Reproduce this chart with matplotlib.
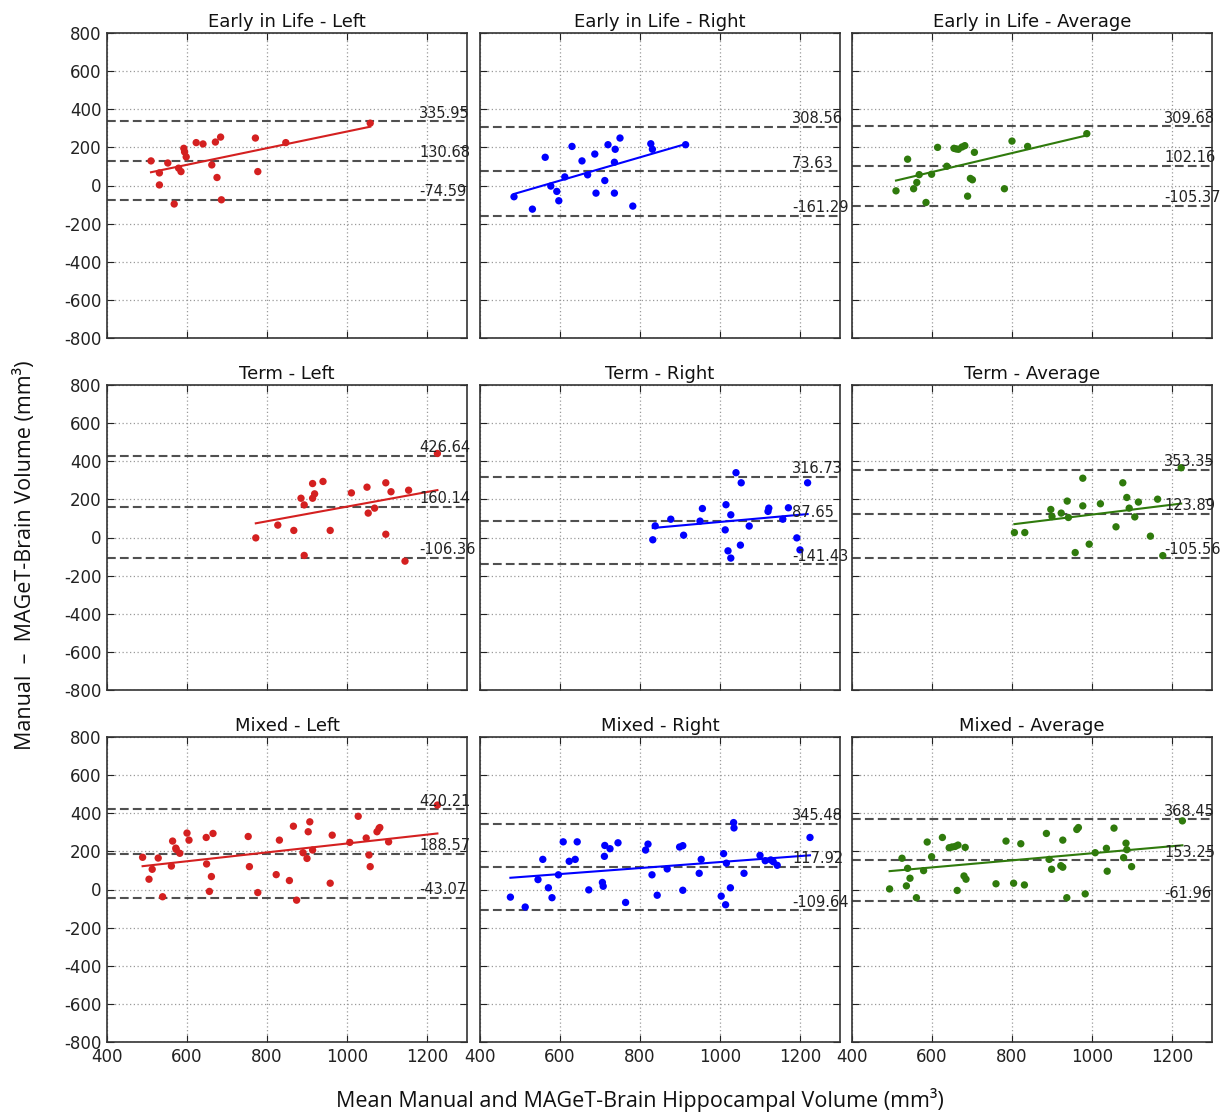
import numpy as np
import matplotlib
matplotlib.use("Agg")
import matplotlib.pyplot as plt

plt.rcParams["axes.unicode_minus"] = False

# ---------------- data ----------------
titles = ["Early in Life - Left", "Early in Life - Right", "Early in Life - Average",
          "Term - Left", "Term - Right", "Term - Average",
          "Mixed - Left", "Mixed - Right", "Mixed - Average"]

eil_left_x = [510, 531, 531, 552, 568, 579, 585, 592, 594, 598, 623, 640, 662, 671, 675, 684, 686, 771, 777, 847, 1058]
eil_left_y = [129, 66, 3, 118, -97, 91, 73, 195, 176, 150, 225, 218, 108, 228, 42, 254, -75, 249, 73, 225, 327]

eil_right_x = [485, 531, 563, 577, 592, 597, 612, 630, 655, 669, 687, 690, 712, 720, 736, 736, 738, 750, 782, 827, 831, 914]
eil_right_y = [-59, -124, 148, -3, -31, -80, 45, 205, 129, 56, 165, -40, 26, 214, 122, -40, 190, 249, -108, 219, 190, 214]

eil_avg_x = [510, 539, 554, 562, 568, 585, 599, 614, 637, 655, 660, 666, 675, 682, 689, 696, 701, 706, 781, 800, 839, 987]
eil_avg_y = [-28, 138, -17, 16, 57, -89, 59, 200, 101, 195, 192, 190, 202, 209, -56, 37, 30, 174, -17, 233, 205, 272]

term_left_x = [772, 827, 867, 885, 893, 893, 914, 914, 919, 940, 958, 1011, 1050, 1053, 1069, 1097, 1097, 1110, 1145, 1154, 1226]
term_left_y = [-2, 65, 37, 206, 171, -94, 283, 206, 229, 294, 37, 234, 264, 128, 154, 287, 17, 240, -124, 248, 441]

term_right_x = [832, 838, 877, 909, 950, 956, 1013, 1015, 1020, 1027, 1027, 1040, 1051, 1053, 1073, 1120, 1122, 1157, 1171, 1192, 1200, 1219]
term_right_y = [-12, 61, 96, 12, 86, 152, 40, 172, -70, -108, 119, 340, -40, 287, 60, 137, 154, 96, 156, -2, -65, 287]

term_avg_x = [806, 832, 897, 900, 923, 938, 941, 958, 977, 977, 993, 1021, 1060, 1077, 1087, 1093, 1107, 1116, 1146, 1164, 1177, 1223]
term_avg_y = [26, 26, 147, 110, 128, 191, 105, -79, 311, 166, -35, 177, 56, 287, 210, 154, 108, 186, 7, 201, -95, 366]

mixed_left_x = [489, 505, 513, 528, 539, 561, 564, 572, 573, 582, 600, 605, 648, 649, 656, 661, 665, 753, 756, 777,
                823, 831, 856, 866, 874, 890, 900, 903, 907, 914, 958, 963, 1007, 1028, 1048, 1055, 1058, 1075, 1080, 1082, 1104, 1226]
mixed_left_y = [169, 54, 106, 165, -38, 123, 254, 217, 210, 190, 296, 259, 273, 134, -10, 68, 294, 278, 120, -16,
                78, 259, 47, 332, -56, 193, 163, 303, 355, 207, 33, 285, 247, 384, 270, 181, 120, 303, 320, 325, 250, 443]

mixed_right_x = [476, 513, 545, 557, 571, 580, 596, 608, 623, 638, 643, 672, 706, 708, 711, 712, 725, 745, 764, 814, 820, 830,
                 843, 868, 899, 907, 907, 948, 953, 1003, 1009, 1014, 1016, 1026, 1034, 1035, 1060, 1100, 1113, 1127, 1133, 1143, 1225]
mixed_right_y = [-40, -92, 52, 158, 9, -43, 77, 250, 148, 158, 250, -2, 37, 17, 174, 231, 214, 245, -68, 207, 238, 77,
                 -30, 108, 223, 230, -4, 85, 158, -35, 188, -80, 138, 9, 351, 323, 85, 179, 151, 155, 146, 127, 273]

mixed_avg_x = [494, 525, 536, 539, 545, 561, 579, 588, 599, 626, 643, 650, 658, 665, 683, 663, 680, 685, 760, 785, 804,
               822, 831, 886, 893, 899, 922, 927, 927, 937, 962, 966, 983, 1008, 1036, 1038, 1055, 1079, 1085, 1087, 1099, 1226]
mixed_avg_y = [3, 164, 19, 111, 59, -43, 99, 249, 172, 273, 219, 223, 226, 233, 221, -5, 71, 54, 30, 254, 33,
               240, 24, 294, 158, 106, 125, 117, 259, -43, 315, 325, -23, 193, 216, 96, 322, 167, 243, 209, 120, 360]

xs = [eil_left_x, eil_right_x, eil_avg_x, term_left_x, term_right_x, term_avg_x, mixed_left_x, mixed_right_x, mixed_avg_x]
ys = [eil_left_y, eil_right_y, eil_avg_y, term_left_y, term_right_y, term_avg_y, mixed_left_y, mixed_right_y, mixed_avg_y]

upper_loa = [335.95, 308.56, 309.68, 426.64, 316.73, 353.35, 420.21, 345.48, 368.45]
mean_diff = [130.68, 73.63, 102.16, 160.14, 87.65, 123.89, 188.57, 117.92, 153.25]
lower_loa = [-74.59, -161.29, -105.37, -106.36, -141.43, -105.56, -43.07, -109.64, -61.96]

colors = ["#d42020", "#0000ff", "#2f7a0c"]

x_ticks = [400, 600, 800, 1000, 1200]
y_ticks = [800, 600, 400, 200, 0, -200, -400, -600, -800]

# ---------------- figure ----------------
W, H = 1227, 1116
fig = plt.figure(figsize=(W / 100, H / 100), dpi=100)

lefts = [107, 480, 852]
tops = [33, 385, 737]
aw, ah = 360, 305

for i in range(9):
    r, c = divmod(i, 3)
    ax = fig.add_axes([lefts[c] / W, 1 - (tops[r] + ah) / H, aw / W, ah / H])
    col = colors[c]
    x = np.array(xs[i], dtype=float)
    y = np.array(ys[i], dtype=float)

    ax.grid(True, color="#9a9a9a", linestyle=(0, (1, 2)), linewidth=0.9)
    ax.set_axisbelow(True)

    for v in (upper_loa[i], mean_diff[i], lower_loa[i]):
        ax.axhline(v, color="#505050", linestyle=(0, (4.2, 2.0)), linewidth=1.5, zorder=2)
        ax.text(1180, v + 4, f"{v:.2f}", fontsize=10.5, color="#222222",
                ha="left", va="bottom", clip_on=False, zorder=5)

    ax.scatter(x, y, s=28, color=col, edgecolors="none", zorder=3)
    k, b = np.polyfit(x, y, 1)
    xl = np.array([x.min(), x.max()])
    ax.plot(xl, k * xl + b, color=col, linewidth=1.5, zorder=4)

    ax.set_xlim(400, 1300)
    ax.set_ylim(-800, 800)
    ax.set_xticks(x_ticks)
    ax.set_yticks(y_ticks)
    ax.tick_params(direction="in", length=5, width=0.8, top=True, right=True,
                   labelsize=12, colors="#222222", pad=4)
    if c != 0:
        ax.tick_params(labelleft=False)
    if r != 2:
        ax.tick_params(labelbottom=False)
    for s in ax.spines.values():
        s.set_color("#333333")
        s.set_linewidth(1.2)
    ax.set_title(titles[i], fontsize=13, pad=4, color="#111111")

fig.text(25 / W, 1 - 555 / H, "Manual  \u2013  MAGeT-Brain Volume (mm\u00b3)", rotation=90,
         ha="center", va="center", fontsize=15.5, family=["Open Sans", "DejaVu Sans"], color="#111111")
fig.text(640 / W, 1 - 1100 / H, "Mean Manual and MAGeT-Brain Hippocampal Volume (mm\u00b3)",
         ha="center", va="center", fontsize=15.5, family=["Open Sans", "DejaVu Sans"], color="#111111")

fig.savefig("out.png", dpi=100, facecolor="white")
